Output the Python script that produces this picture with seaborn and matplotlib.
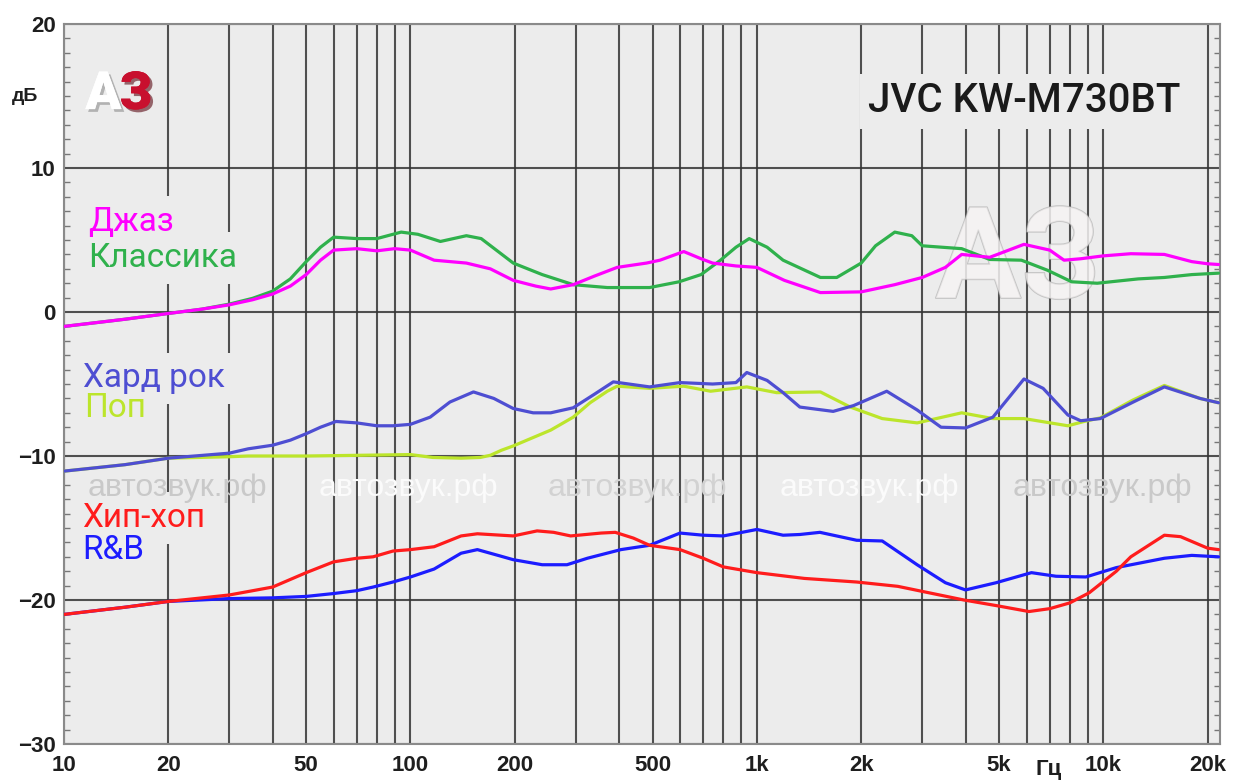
import numpy as np
import pandas as pd
import matplotlib
matplotlib.use("Agg")
import matplotlib.pyplot as plt
import matplotlib.patheffects as pe
from matplotlib.ticker import FixedLocator, MultipleLocator, NullFormatter
import seaborn as sns

# frequency response of the EQ presets (Hz, dB)
jazz_f = [10, 15, 20, 25, 30, 35, 40, 45, 50, 55, 60, 70, 80, 90, 100, 117, 145, 170, 198, 230, 254, 295,
          340, 395, 480, 525, 615, 690, 745, 870, 1000, 1200, 1525, 2000, 2500, 3000, 3500, 3900, 4700,
          5900, 7000, 7700, 8600, 10000, 12000, 15000, 18000, 20000, 21500]
jazz_db = [-1.0, -0.5, -0.1, 0.2, 0.5, 0.85, 1.25, 1.8, 2.6, 3.6, 4.3, 4.4, 4.25, 4.4, 4.3, 3.6, 3.4, 3.0, 2.2, 1.8,
           1.6, 1.9, 2.5, 3.1, 3.4, 3.6, 4.2, 3.7, 3.4, 3.2, 3.1, 2.2, 1.35, 1.4, 1.9, 2.4, 3.1, 4.0, 3.8,
           4.7, 4.3, 3.6, 3.7, 3.9, 4.05, 4.0, 3.5, 3.35, 3.3]

classic_f = [10, 15, 20, 25, 30, 35, 40, 45, 50, 55, 60, 70, 80, 94, 105, 122, 145, 160, 198, 240, 295, 370,
             490, 596, 690, 785, 870, 950, 1070, 1190, 1525, 1700, 2000, 2200, 2500, 2800, 3000, 3900, 4700,
             5800, 6900, 8100, 9600, 12600, 15000, 18000, 21500]
classic_db = [-1.0, -0.5, -0.1, 0.2, 0.55, 0.95, 1.45, 2.3, 3.5, 4.5, 5.2, 5.1, 5.1, 5.55, 5.4, 4.9, 5.3, 5.1, 3.4,
              2.6, 1.9, 1.7, 1.7, 2.1, 2.6, 3.6, 4.5, 5.1, 4.5, 3.6, 2.4, 2.4, 3.4, 4.6, 5.55, 5.3, 4.6, 4.4,
              3.65, 3.6, 2.9, 2.1, 2.0, 2.3, 2.4, 2.6, 2.7]

rock_f = [10, 15, 20, 30, 34, 40, 45, 50, 55, 61, 70, 80, 89, 100, 114, 130, 152, 174, 198, 226, 254, 295,
          340, 385, 490, 600, 745, 870, 935, 1070, 1190, 1330, 1660, 1900, 2370, 2900, 3400, 4000, 4800,
          5900, 6700, 7900, 8600, 9800, 12200, 15000, 19000, 21500]
rock_db = [-11.05, -10.6, -10.15, -9.8, -9.5, -9.25, -8.9, -8.45, -8.0, -7.6, -7.7, -7.9, -7.9, -7.8, -7.3,
           -6.25, -5.55, -6.0, -6.7, -7.0, -7.0, -6.65, -5.7, -4.85, -5.2, -4.9, -5.0, -4.9, -4.2, -4.75,
           -5.6, -6.6, -6.9, -6.5, -5.5, -6.8, -8.0, -8.05, -7.3, -4.65, -5.3, -7.15, -7.55, -7.4, -6.25,
           -5.2, -6.0, -6.3]

pop_f = [10, 15, 20, 30, 34, 50, 100, 116, 140, 159, 170, 183, 198, 254, 295, 330, 370, 395, 490, 615,
         735, 935, 1140, 1525, 1860, 2300, 2900, 3900, 4800, 5900, 7900, 8800, 9800, 12200, 15000, 19000,
         21500]
pop_db = [-11.05, -10.6, -10.15, -10.05, -10.0, -10.0, -9.9, -10.1, -10.15, -10.1, -9.95, -9.6, -9.3, -8.2,
          -7.3, -6.3, -5.5, -5.15, -5.3, -5.15, -5.5, -5.2, -5.6, -5.55, -6.6, -7.4, -7.7, -7.0, -7.4, -7.4,
          -7.9, -7.6, -7.35, -6.1, -5.1, -6.0, -6.3]

hiphop_f = [10, 15, 20, 30, 40, 50, 60, 70, 78, 89, 100, 117, 140, 156, 198, 232, 259, 290, 355, 390, 440,
            490, 600, 700, 800, 1000, 1370, 1940, 2550, 3960, 4940, 6100, 7000, 8000, 9100, 10900, 12000,
            15000, 16700, 20000, 21500]
hiphop_db = [-21.0, -20.5, -20.1, -19.65, -19.1, -18.1, -17.35, -17.1, -17.0, -16.6, -16.5, -16.3, -15.55,
             -15.4, -15.55, -15.2, -15.3, -15.55, -15.35, -15.3, -15.7, -16.2, -16.5, -17.1, -17.7, -18.1,
             -18.5, -18.75, -19.05, -20.0, -20.4, -20.8, -20.6, -20.2, -19.5, -18.0, -17.0, -15.5, -15.6,
             -16.4, -16.5]

rnb_f = [10, 15, 20, 30, 40, 50, 60, 70, 78, 89, 100, 117, 140, 156, 182, 198, 240, 283, 324, 405, 490,
         600, 700, 800, 1000, 1190, 1330, 1520, 1940, 2300, 2900, 3500, 4000, 4900, 6200, 7300, 8900,
         10900, 15000, 18000, 21500]
rnb_db = [-21.0, -20.5, -20.1, -19.9, -19.85, -19.75, -19.55, -19.35, -19.1, -18.75, -18.4, -17.85, -16.75,
          -16.5, -16.95, -17.2, -17.55, -17.55, -17.1, -16.5, -16.2, -15.35, -15.5, -15.55, -15.1, -15.5,
          -15.45, -15.3, -15.85, -15.9, -17.55, -18.8, -19.3, -18.8, -18.1, -18.35, -18.4, -17.75, -17.1,
          -16.9, -17.0]

presets = ["Джаз", "Классика", "Хард рок", "Поп", "Хип-хоп", "R&B"]
colors = {"Джаз": "#ff00ff", "Классика": "#2fb14c", "Хард рок": "#4e4ed2",
          "Поп": "#bce52b", "Хип-хоп": "#ff1c1c", "R&B": "#1c1cff"}
draw_order = ["Классика", "Джаз", "Поп", "Хард рок", "R&B", "Хип-хоп"]

xticks = [10, 20, 50, 100, 200, 500, 1000, 2000, 5000, 10000, 20000]
xlabels = ["10", "20", "50", "100", "200", "500", "1k", "2k", "5k", "10k", "20k"]
xminor = [30, 40, 60, 70, 80, 90, 300, 400, 600, 700, 800, 900,
          3000, 4000, 6000, 7000, 8000, 9000]
yticks = [-30, -20, -10, 0, 10, 20]

series = {"Джаз": (jazz_f, jazz_db), "Классика": (classic_f, classic_db),
          "Хард рок": (rock_f, rock_db), "Поп": (pop_f, pop_db),
          "Хип-хоп": (hiphop_f, hiphop_db), "R&B": (rnb_f, rnb_db)}
df = pd.concat([pd.DataFrame({"f": f, "db": d, "preset": name}) for name, (f, d) in series.items()],
               ignore_index=True)

sns.set_style("white")
bg = "#ececec"
tick_font = ["Liberation Sans Narrow", "Liberation Sans", "DejaVu Sans"]
label_font = ["Roboto", "DejaVu Sans"]

fig = plt.figure(figsize=(12.36, 7.83), dpi=100)
ax = fig.add_axes([0.0518, 0.0498, 0.9352, 0.9195])
ax.set_facecolor(bg)

sns.lineplot(data=df, x="f", y="db", hue="preset", hue_order=draw_order, palette=colors,
             linewidth=2.3, legend=False, sort=False, estimator=None, ax=ax, zorder=5)

ax.set_xscale("log")
ax.set_xlim(10, 21700)
ax.set_ylim(-30, 20)
ax.xaxis.set_major_locator(FixedLocator(xticks))
ax.xaxis.set_minor_locator(FixedLocator(xminor))
ax.xaxis.set_minor_formatter(NullFormatter())
ax.set_xticklabels(xlabels)
ax.yaxis.set_major_locator(FixedLocator(yticks))
ax.yaxis.set_minor_locator(MultipleLocator(1))
ax.set_xlabel("")
ax.set_ylabel("")

ax.grid(True, axis="x", which="both", color="#333333", linewidth=1.5, alpha=0.85)
ax.grid(True, axis="y", which="major", color="#333333", linewidth=1.5, alpha=0.85)
ax.set_axisbelow(True)

ax.tick_params(axis="x", which="major", length=0, pad=8, labelcolor="#1e1e1e")
ax.tick_params(axis="y", which="major", length=0, pad=6, labelcolor="#1e1e1e")
ax.tick_params(axis="x", which="minor", length=0)
ax.tick_params(axis="y", which="minor", left=True, right=True, direction="in",
               length=4, width=1, color="#777777")
for lab in ax.get_xticklabels() + ax.get_yticklabels():
    lab.set_fontfamily(tick_font)
    lab.set_fontweight("bold")
    lab.set_fontsize(16)

for s in ax.spines.values():
    s.set_color("#8a8a8a")
    s.set_linewidth(1.5)

# preset names; a box in the plot colour under each so the grid breaks around them
label_pos = {"Джаз": (0.021, 0.725), "Классика": (0.021, 0.675),
             "Хард рок": (0.016, 0.508), "Поп": (0.017, 0.467),
             "Хип-хоп": (0.016, 0.314), "R&B": (0.016, 0.269)}
for name in presets:
    x, y = label_pos[name]
    ax.text(x, y, name, transform=ax.transAxes, color=bg, fontsize=24,
            family=label_font, ha="left", va="center", zorder=2,
            bbox=dict(facecolor=bg, edgecolor="none", pad=7))
    ax.text(x, y, name, transform=ax.transAxes, color=colors[name], fontsize=24,
            family=label_font, ha="left", va="center", zorder=3)

ax.text(0.831, 0.893, "JVC KW-M730BT", transform=ax.transAxes, fontsize=29,
        family=label_font, fontweight="medium", color="#1a1a1a", ha="center", va="center",
        bbox=dict(facecolor=bg, edgecolor="none", pad=6), zorder=3)

# site watermarks
wm_x = [0.098, 0.298, 0.496, 0.697, 0.898]
wm_c = ["#c9c9c9", "#fbfbfb", "#d2d2d2", "#fbfbfb", "#c9c9c9"]
for x, c in zip(wm_x, wm_c):
    ax.text(x, 0.356, "автозвук.рф", transform=ax.transAxes, fontsize=23,
            family=["Liberation Sans", "DejaVu Sans"], color=c, ha="center", va="center", zorder=4)

ax.text(0.825, 0.668, "АЗ", transform=ax.transAxes, fontsize=92, fontweight="bold",
        family=label_font, color="#f7f4f4", alpha=0.6, ha="center", va="center", zorder=4,
        path_effects=[pe.withStroke(linewidth=1.2, foreground="#a8a8a8")])

# logo
ax.text(0.0185, 0.902, "А", transform=ax.transAxes, fontsize=38, fontweight="heavy",
        family=label_font, color="white", ha="left", va="center", zorder=4,
        path_effects=[pe.withSimplePatchShadow(offset=(2, -2), shadow_rgbFace="#9a9a9a", alpha=0.7),
                      pe.Normal()])
ax.text(0.0480, 0.902, "З", transform=ax.transAxes, fontsize=38, fontweight="heavy",
        family=label_font, color="#c8102e", ha="left", va="center", zorder=4,
        path_effects=[pe.withSimplePatchShadow(offset=(2, -2), shadow_rgbFace="#5a0a14", alpha=0.6),
                      pe.Normal()])

fig.text(0.020, 0.877, "дБ", fontsize=14, fontweight="bold", family=tick_font,
         color="#1e1e1e", ha="center", va="center")
fig.text(0.848, 0.017, "Гц", fontsize=16, fontweight="bold", family=tick_font,
         color="#1e1e1e", ha="center", va="center")

fig.savefig("out.png", dpi=100, facecolor="white")
